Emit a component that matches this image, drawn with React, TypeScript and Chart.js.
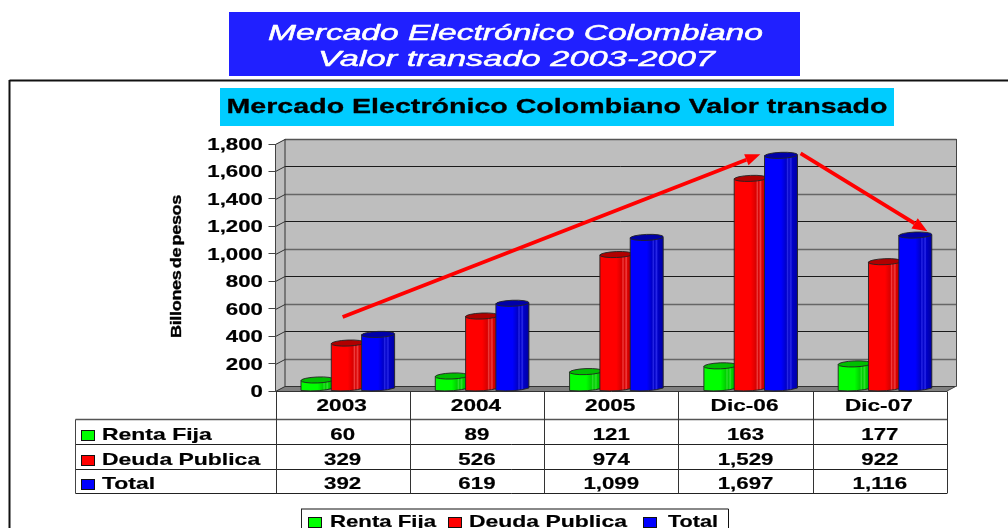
import React, { useEffect, useRef } from "react";
import { Chart, registerables } from "chart.js";

Chart.register(...registerables);

const categories = ["2003", "2004", "2005", "Dic-06", "Dic-07"];
const rentaFija = [60, 89, 121, 163, 177];
const deudaPublica = [329, 526, 974, 1529, 922];
const total = [392, 619, 1099, 1697, 1116];
const seriesNames = ["Renta Fija", "Deuda Publica", "Total"];
const seriesColors = ["#00FF00", "#FF0000", "#0000FF"];
const capColors = ["#00BE00", "#B00000", "#0000A8"];
const sideColors = ["#00D000", "#D80000", "#0000C8"];
const edgeColors = ["#00A800", "#B00000", "#0000A0"];
const stripeColors = ["#30E030", "#F04040", "#2828E8"];
const bannerLines = ["Mercado Electrónico Colombiano", "Valor transado 2003-2007"];
const chartTitle = "Mercado Electrónico Colombiano Valor transado";
const axisTitle = "Billones de pesos";
// Trend arrows in data space: [category index, value]
const trendUp = [[0, 539], [3.11, 1725]];
const trendDown = [[3.41, 1731], [4.354, 1164]];

const allSeries = [rentaFija, deudaPublica, total];
const fmt = (v: number) => v.toLocaleString("en-US");
const FRONT_TO_BACK_X = 9.5;
const FRONT_TO_BACK_Y = 5;
const MID_X = 3.8;
const MID_Y = 2.5;

type TxtOpt = { w?: number; sx?: number; align?: string; color?: string; rot?: number; heavy?: number; ls?: string; ws?: string };

function txt(ctx: any, s: string, x: number, y: number, font: string, opt: TxtOpt = {}) {
  ctx.save();
  ctx.font = font;
  ctx.fillStyle = opt.color || "#000";
  ctx.strokeStyle = opt.color || "#000";
  ctx.textBaseline = "alphabetic";
  ctx.textAlign = "left";
  if (opt.ls) ctx.letterSpacing = opt.ls;
  if (opt.ws) ctx.wordSpacing = opt.ws;
  const natural = ctx.measureText(s).width;
  const sx = opt.w ? opt.w / natural : opt.sx || 1;
  const drawn = natural * sx;
  ctx.translate(x, y);
  if (opt.rot) ctx.rotate(opt.rot);
  const dx = opt.align === "center" ? -drawn / 2 : opt.align === "right" ? -drawn : 0;
  ctx.translate(dx, 0);
  ctx.scale(sx, 1);
  ctx.fillText(s, 0, 0);
  if (opt.heavy) {
    ctx.lineWidth = opt.heavy;
    ctx.lineJoin = "round";
    ctx.strokeText(s, 0, 0);
  }
  ctx.restore();
}

function line(ctx: CanvasRenderingContext2D, x1: number, y1: number, x2: number, y2: number, color: string, w = 1) {
  ctx.strokeStyle = color;
  ctx.lineWidth = w;
  ctx.beginPath();
  ctx.moveTo(x1, y1);
  ctx.lineTo(x2, y2);
  ctx.stroke();
}

function arrow(ctx: CanvasRenderingContext2D, x1: number, y1: number, x2: number, y2: number) {
  const a = Math.atan2(y2 - y1, x2 - x1);
  const len = 15;
  const half = 6;
  const bx = x2 - Math.cos(a) * len;
  const by = y2 - Math.sin(a) * len;
  line(ctx, x1, y1, bx, by, "#FF0000", 3.8);
  ctx.fillStyle = "#FF0000";
  ctx.beginPath();
  ctx.moveTo(x2, y2);
  ctx.lineTo(bx - Math.sin(a) * half, by + Math.cos(a) * half);
  ctx.lineTo(bx + Math.sin(a) * half, by - Math.cos(a) * half);
  ctx.closePath();
  ctx.fill();
}

const swatch = (ctx: CanvasRenderingContext2D, x: number, y: number, color: string) => {
  ctx.fillStyle = color;
  ctx.fillRect(x, y, 13, 10);
  ctx.strokeStyle = "#111";
  ctx.lineWidth = 1;
  ctx.strokeRect(x + 0.5, y + 0.5, 13, 10);
};

const BOLD = 'bold 17px "Liberation Sans"';

const decor = {
  id: "decor",
  beforeDraw(chart: any) {
    const { ctx, scales } = chart;
    const y = scales.y;
    const x = scales.x;
    const L = chart.chartArea.left;
    const R = chart.chartArea.right;
    const T = chart.chartArea.top;
    const B = chart.chartArea.bottom;
    ctx.save();
    ctx.fillStyle = "#fff";
    ctx.fillRect(0, 0, chart.width, chart.height);

    // page frame
    line(ctx, 9.5, 80.5, 1008, 80.5, "#111", 2);
    line(ctx, 9.5, 80, 9.5, 528, "#111", 2);

    // banners
    ctx.fillStyle = "#2020FF";
    ctx.fillRect(229, 12, 571, 64);
    txt(ctx, bannerLines[0], 268, 40, 'italic 22px "Liberation Sans"', { w: 495, color: "#fff", heavy: 0.5 });
    txt(ctx, bannerLines[1], 318, 65.5, 'italic 22px "Liberation Sans"', { w: 397, color: "#fff", heavy: 0.5 });
    ctx.fillStyle = "#00CCFF";
    ctx.fillRect(220, 88, 674, 38);
    txt(ctx, chartTitle, 226.5, 113, 'bold 21px "Liberation Sans"', { w: 661, heavy: 0.3 });

    // axis title
    txt(ctx, axisTitle, 180.5, 338, 'bold 15.5px "Liberation Sans"', { w: 143, rot: -Math.PI / 2, ls: "-0.3px", ws: "-2px", heavy: 0.35 });

    // walls
    const bx = L + FRONT_TO_BACK_X;
    const dy = FRONT_TO_BACK_Y;
    ctx.fillStyle = "#BEBEBE";
    ctx.fillRect(bx, T - dy, R - L, B - T);
    ctx.beginPath();
    ctx.moveTo(L, T); ctx.lineTo(bx, T - dy); ctx.lineTo(bx, B - dy); ctx.lineTo(L, B); ctx.closePath();
    ctx.fill();
    ctx.fillStyle = "#808080";
    ctx.beginPath();
    ctx.moveTo(L, B); ctx.lineTo(bx, B - dy); ctx.lineTo(R + FRONT_TO_BACK_X, B - dy); ctx.lineTo(R, B); ctx.closePath();
    ctx.fill();

    // gridlines and value labels, in step with the value scale
    y.ticks.forEach((t: any) => {
      const py = Math.round(y.getPixelForValue(t.value)) + 0.5;
      const gray = Math.round(t.value / 200) % 2 === 1;
      const c = t.value === 1800 ? "#555" : t.value === 0 ? "#333" : gray ? "#666" : "#1a1a1a";
      line(ctx, bx, py - dy, R + FRONT_TO_BACK_X, py - dy, c, gray ? 1.4 : 1);
      line(ctx, L, py, bx, py - dy, "#333", 1);
      txt(ctx, String(t.label), 263, y.getPixelForValue(t.value) + 6, BOLD, { sx: 1.31, align: "right", heavy: 0.2 });
    });
    line(ctx, L, T, L, B, "#444", 1);
    line(ctx, bx, T - dy, bx, B - dy, "#333", 1);
    line(ctx, R + FRONT_TO_BACK_X, T - dy, R + FRONT_TO_BACK_X, B - dy, "#444", 1);
    line(ctx, R, B, R + FRONT_TO_BACK_X, B - dy, "#444", 1);

    // data table
    const rowY = [391, 418.7, 444.3, 469.3, 493.3].map((v) => Math.round(v) + 0.5);
    const TL = 75.5;
    const half = (x.getPixelForValue(1) - x.getPixelForValue(0)) / 2;
    line(ctx, L, rowY[0], R, rowY[0], "#333", 1);
    rowY.slice(1).forEach((ry, i) => line(ctx, TL, ry, R, ry, i === 0 ? "#555" : "#222", i === 0 ? 1.4 : 1));
    line(ctx, TL, rowY[1], TL, rowY[4], "#444", 1);
    categories.forEach((c, i) => {
      const vx = Math.round(x.getPixelForValue(i) - half) + 0.5;
      line(ctx, vx, rowY[0], vx, rowY[4], "#333", 1);
      txt(ctx, c, x.getPixelForValue(i) - 1, 411, BOLD, { sx: 1.33, align: "center", heavy: 0.2 });
    });
    const lastX = Math.round(R) + 0.5;
    line(ctx, lastX, rowY[0], lastX, rowY[4], "#333", 1);

    const baselines = [440, 465, 489];
    seriesNames.forEach((name, r) => {
      swatch(ctx, 81, baselines[r] - 10, seriesColors[r]);
      txt(ctx, name, 102, baselines[r], BOLD, { sx: 1.35, heavy: 0.2 });
      allSeries[r].forEach((v, i) => {
        txt(ctx, fmt(v), x.getPixelForValue(i), baselines[r], BOLD, { sx: 1.31, align: "center", heavy: 0.2 });
      });
    });

    // legend
    line(ctx, 301, 509, 728.5, 509, "#888", 2);
    line(ctx, 301.5, 509, 301.5, 528, "#222", 1);
    line(ctx, 728.5, 509, 728.5, 528, "#111", 1);
    const legendSwatch = [308, 448, 643];
    const legendText = [330, 469, 668];
    const legendW = [106, 158, 50];
    seriesNames.forEach((name, r) => {
      swatch(ctx, legendSwatch[r], 517, seriesColors[r]);
      txt(ctx, name, legendText[r], 527, BOLD, { w: legendW[r], heavy: 0.2 });
    });
    ctx.restore();
  },
  beforeDatasetDraw() {
    return false;
  },
  afterDatasetsDraw(chart: any) {
    const { ctx, scales } = chart;
    const bottom = chart.chartArea.bottom;
    ctx.save();
    chart.data.datasets.forEach((_: any, d: number) => {
      const meta = chart.getDatasetMeta(d);
      meta.data.forEach((bar: any) => {
        const w = bar.width + 2.7;
        const x0 = bar.x - bar.width / 2 + MID_X;
        const x1 = x0 + w;
        const top = bar.y - MID_Y;
        const rx = w / 2;
        const ry = 3;
        const g = ctx.createLinearGradient(x0, 0, x1, 0);
        g.addColorStop(0, seriesColors[d]);
        g.addColorStop(0.5, seriesColors[d]);
        g.addColorStop(0.66, sideColors[d]);
        g.addColorStop(0.7, stripeColors[d]);
        g.addColorStop(0.74, sideColors[d]);
        g.addColorStop(0.8, stripeColors[d]);
        g.addColorStop(0.84, sideColors[d]);
        g.addColorStop(1, edgeColors[d]);
        ctx.fillStyle = g;
        ctx.strokeStyle = "#222";
        ctx.lineWidth = 0.9;
        ctx.beginPath();
        ctx.moveTo(x0, top);
        ctx.lineTo(x0, bottom - 0.5);
        ctx.quadraticCurveTo(x0 + rx * 1.2, bottom + 1, x1, bottom - 3);
        ctx.lineTo(x1, top - 0.5);
        ctx.closePath();
        ctx.fill();
        ctx.stroke();
        ctx.fillStyle = capColors[d];
        ctx.beginPath();
        ctx.ellipse(x0 + rx, top - 0.3, rx, ry, -0.04, 0, Math.PI * 2);
        ctx.fill();
        ctx.stroke();
      });
    });
    [trendUp, trendDown].forEach(([a, b]) => {
      arrow(ctx, scales.x.getPixelForValue(a[0]), scales.y.getPixelForValue(a[1]), scales.x.getPixelForValue(b[0]), scales.y.getPixelForValue(b[1]));
    });
    ctx.restore();
  },
};

export default function App() {
  const ref = useRef<HTMLCanvasElement | null>(null);
  useEffect(() => {
    const chart = new Chart(ref.current as HTMLCanvasElement, {
      type: "bar",
      data: {
        labels: categories,
        datasets: seriesNames.map((name, i) => ({
          label: name,
          data: allSeries[i],
          backgroundColor: seriesColors[i],
          categoryPercentage: 0.677,
          barPercentage: 1,
        })),
      },
      options: {
        responsive: false,
        animation: false,
        layout: { padding: { left: 0, right: 61, top: 144, bottom: 0 } },
        plugins: { legend: { display: false }, title: { display: false }, tooltip: { enabled: false } },
        scales: {
          x: {
            grid: { display: false },
            border: { display: false },
            ticks: { display: false },
            afterFit: (s: any) => { s.height = 137; },
          },
          y: {
            min: 0,
            max: 1800,
            grid: { drawOnChartArea: false, drawTicks: true, tickLength: 7, color: "#444" },
            border: { display: false },
            ticks: { display: false, stepSize: 200, callback: (v: any) => fmt(Number(v)) },
            afterFit: (s: any) => { s.width = 275.5; },
          },
        },
      },
      plugins: [decor],
    } as any);
    return () => chart.destroy();
  }, []);
  return (
    <div style={{ position: "absolute", left: 0, top: 0, width: 1008, height: 528, overflow: "hidden" }}>
      <canvas ref={ref} width={1008} height={528} style={{ display: "block" }} />
    </div>
  );
}
